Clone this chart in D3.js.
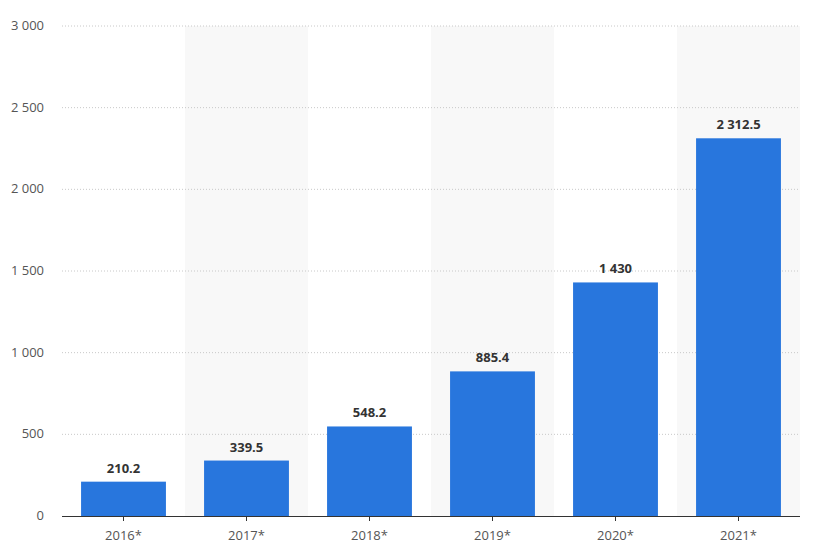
<!DOCTYPE html>
<html><head><meta charset="utf-8">
<script src="https://cdn.jsdelivr.net/npm/d3@7"></script>
<style>body{margin:0;background:#fff}text{font-family:"Open Sans",sans-serif}</style>
</head><body>
<svg id="c" width="816" height="558"></svg>
<script>
const categories = ["2016*","2017*","2018*","2019*","2020*","2021*"];
const values = [210.2, 339.5, 548.2, 885.4, 1430, 2312.5];
const valueLabels = ["210.2","339.5","548.2","885.4","1 430","2 312.5"];
const yTicks = [0,500,1000,1500,2000,2500,3000];
const yTickLabels = ["0","500","1 000","1 500","2 000","2 500","3 000"];

const svg = d3.select("#c");
const m = {l:62, r:800, t:26, b:516};
const x = d3.scaleBand().domain(categories).range([m.l, m.r]).paddingInner(0.31).paddingOuter(0.155);
const xb = d3.scaleBand().domain(categories).range([m.l, m.r]);
const y = d3.scaleLinear().domain([0,3000]).range([m.b, m.t]);

svg.selectAll("rect.bg").data(categories.filter((d,i)=>i%2==1)).join("rect")
  .attr("x", d=>xb(d)).attr("width", xb.bandwidth()).attr("y", m.t).attr("height", m.b-m.t).attr("fill","#f8f8f8");

svg.selectAll("line.g").data(yTicks.slice(1)).join("line")
  .attr("x1", m.l).attr("x2", m.r).attr("y1", d=>y(d)).attr("y2", d=>y(d))
  .attr("stroke","#c8c8c8").attr("stroke-dasharray","1,2");

svg.selectAll("text.yt").data(yTicks).join("text")
  .attr("x", 44).attr("y", d=>y(d)+4).attr("text-anchor","end")
  .attr("font-size",13).attr("fill","#555").text((d,i)=>yTickLabels[i]);

svg.selectAll("rect.bar").data(values).join("rect")
  .attr("x",(d,i)=>x(categories[i])).attr("width", x.bandwidth())
  .attr("y", d=>y(d)).attr("height", d=>m.b-y(d)).attr("fill","#2876dd");

svg.selectAll("text.vl").data(values).join("text")
  .attr("x",(d,i)=>x(categories[i])+x.bandwidth()/2).attr("y", d=>y(d)-9)
  .attr("text-anchor","middle").attr("font-size",13).attr("font-weight","bold").attr("fill","#333")
  .text((d,i)=>valueLabels[i]);

svg.append("line").attr("x1",m.l).attr("x2",m.r).attr("y1",m.b+0.5).attr("y2",m.b+0.5).attr("stroke","#333");

svg.selectAll("line.xt").data(categories).join("line")
  .attr("x1",d=>xb(d)+xb.bandwidth()/2).attr("x2",d=>xb(d)+xb.bandwidth()/2)
  .attr("y1",m.b).attr("y2",m.b+5).attr("stroke","#333");

svg.selectAll("text.xl").data(categories).join("text")
  .attr("x",d=>xb(d)+xb.bandwidth()/2).attr("y",540).attr("text-anchor","middle")
  .attr("font-size",13).attr("fill","#555").text(d=>d);
</script>
</body></html>
